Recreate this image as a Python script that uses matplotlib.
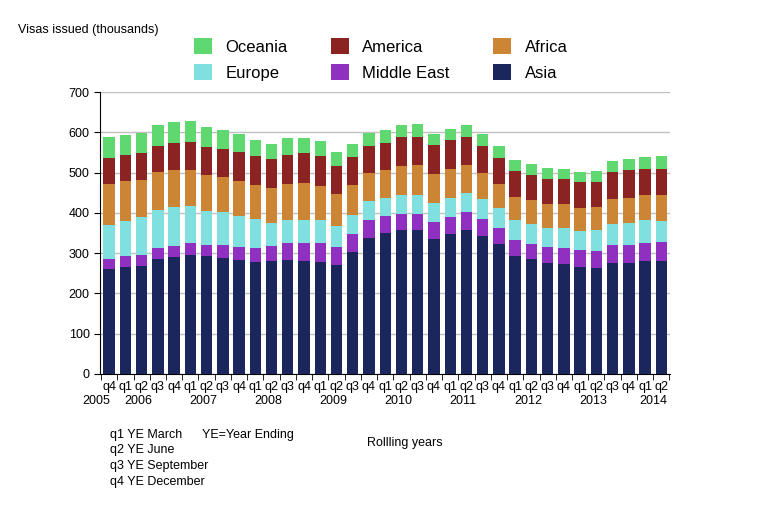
import matplotlib
matplotlib.use("Agg")
import matplotlib.pyplot as plt
import numpy as np

quarters = ["q4"] + ["q1", "q2", "q3", "q4"] * 8 + ["q1", "q2"]
years = ["2005", "2006", "2007", "2008", "2009", "2010", "2011", "2012", "2013", "2014"]
year_pos = [-0.8, 1.8, 5.8, 9.8, 13.8, 17.8, 21.8, 25.8, 29.8, 33.5]

asia = [260, 265, 268, 285, 290, 295, 293, 288, 283, 278, 280, 283, 280, 278, 270, 302, 337, 350,
        357, 357, 335, 347, 357, 342, 322, 293, 285, 275, 273, 265, 263, 275, 275, 280, 280]
middle_east = [25, 28, 27, 27, 27, 30, 27, 32, 32, 34, 37, 42, 45, 47, 45, 45, 45, 42,
               40, 40, 42, 42, 45, 42, 40, 39, 37, 40, 39, 42, 42, 45, 45, 45, 47]
europe = [84, 86, 94, 95, 97, 92, 84, 82, 77, 72, 57, 57, 57, 57, 52, 47, 47, 44,
          47, 47, 47, 47, 47, 50, 50, 50, 50, 47, 50, 48, 52, 52, 55, 57, 52]
africa = [102, 99, 92, 94, 92, 89, 89, 86, 86, 85, 87, 89, 92, 84, 79, 75, 69, 70,
          72, 75, 72, 74, 69, 64, 59, 57, 59, 59, 59, 57, 57, 62, 61, 62, 65]
america = [64, 65, 67, 64, 67, 69, 70, 70, 72, 71, 72, 72, 74, 74, 70, 69, 67, 67,
           72, 69, 72, 70, 70, 67, 65, 64, 62, 63, 63, 64, 62, 67, 70, 66, 66]
oceania = [53, 50, 50, 52, 52, 52, 49, 47, 45, 40, 37, 42, 39, 38, 34, 32, 33, 32,
           29, 32, 29, 28, 29, 32, 29, 28, 28, 27, 24, 25, 27, 27, 27, 28, 31]

series = [("Asia", asia, "#1a265c"), ("Middle East", middle_east, "#9030c0"),
          ("Europe", europe, "#80e0e0"), ("Africa", africa, "#cc8535"),
          ("America", america, "#8b2323"), ("Oceania", oceania, "#60d870")]

plt.rcParams['font.family'] = ['Liberation Sans', 'DejaVu Sans']
fig = plt.figure(figsize=(7.83, 5.2), dpi=100)
ax = fig.add_axes([0.128, 0.281, 0.728, 0.542])

x = np.arange(len(asia))
bottom = np.zeros(len(asia))
bars = {}
for name, vals, col in series:
    bars[name] = ax.bar(x, vals, 0.7, bottom=bottom, color=col, label=name, zorder=3)
    bottom += np.array(vals)

ax.set_xlim(-0.55, len(asia) - 0.45)
ax.set_ylim(0, 700)
ax.set_yticks(range(0, 701, 100))
ax.yaxis.grid(True, color="#c0c0c0", linewidth=1, zorder=0)
ax.set_xticks(x)
ax.set_xticklabels(quarters, fontsize=9)
ax.tick_params(axis="x", length=0, pad=5)
ax.set_xticks(np.arange(-0.5, len(asia), 1), minor=True)
ax.tick_params(axis="x", which="minor", length=4)
ax.tick_params(axis="y", labelsize=9, length=4)
for s in ["top", "right"]:
    ax.spines[s].set_visible(False)
for yr, p in zip(years, year_pos):
    ax.text(p, -52, yr, ha="center", va="top", fontsize=9)

order = ["Oceania", "Europe", "America", "Middle East", "Africa", "Asia"]
fig.legend([bars[n] for n in order], order, ncol=3, loc="upper left",
           bbox_to_anchor=(0.228, 0.955), frameon=False, fontsize=12,
           handlelength=1.1, handleheight=1.1, handletextpad=0.8,
           columnspacing=2.6, labelspacing=0.55)

fig.text(18 / 783, 1 - 30 / 520, "Visas issued (thousands)", fontsize=9, va="center")
notes = ["q1 YE March", "q2 YE June", "q3 YE September", "q4 YE December"]
for i, n in enumerate(notes):
    fig.text(110 / 783, 1 - (435 + 15.5 * i) / 520, n, fontsize=9, va="center")
fig.text(202 / 783, 1 - 435 / 520, "YE=Year Ending", fontsize=9, va="center")
fig.text(367 / 783, 1 - 443 / 520, "Rollling years", fontsize=9, va="center")

fig.savefig("out.png", dpi=100)
